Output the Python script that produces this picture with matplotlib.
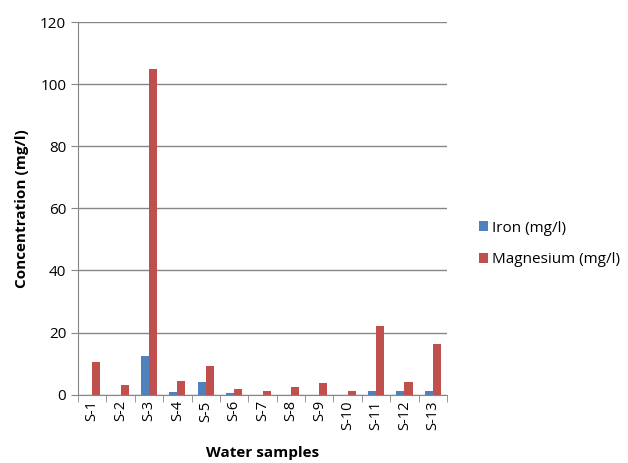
import matplotlib
matplotlib.use("Agg")
import matplotlib.pyplot as plt
import numpy as np

categories = ["S-1", "S-2", "S-3", "S-4", "S-5", "S-6", "S-7", "S-8", "S-9", "S-10", "S-11", "S-12", "S-13"]
iron = [0.0, 0.0, 12.5, 0.9, 4.1, 0.5, 0.0, 0.0, 0.0, 0.0, 1.2, 1.2, 1.3]
magnesium = [10.6, 3.0, 105.0, 4.4, 9.4, 1.8, 1.2, 2.5, 3.8, 1.3, 22.0, 4.2, 16.2]
yticks = [0, 20, 40, 60, 80, 100, 120]

plt.rcParams['font.family'] = ['Open Sans', 'DejaVu Sans']

fig = plt.figure(figsize=(6.28, 4.63), dpi=100)
ax = fig.add_axes([78/628, 1 - 394.7/463, (447-78)/628, (394.7-22)/463])

x = np.arange(len(categories))
w = 1 / 3.5
ax.bar(x - w/2, iron, w, color="#4F81BD", label="Iron (mg/l)", zorder=3)
ax.bar(x + w/2, magnesium, w, color="#C0504D", label="Magnesium (mg/l)", zorder=3)

ax.set_xlim(-0.5, len(categories) - 0.5)
ax.set_ylim(0, 120)
ax.set_yticks(yticks)
ax.yaxis.grid(True, color="#868686", linewidth=1, zorder=0)
ax.set_xticks(x)
ax.set_xticklabels(categories, rotation=90, fontsize=10.5)
ax.tick_params(axis='x', length=0, pad=4)
ax.set_xticks(np.arange(-0.5, len(categories), 1), minor=True)
ax.tick_params(axis='x', which='minor', length=5, color="#868686")
ax.tick_params(axis='y', length=5, color="#868686", labelsize=11)

for s in ["top", "right"]:
    ax.spines[s].set_visible(False)
for s in ["left", "bottom"]:
    ax.spines[s].set_color("#868686")

ax.set_xlabel("Water samples", fontsize=11, fontweight="bold", labelpad=12)
ax.set_ylabel("Concentration (mg/l)", fontsize=11, fontweight="bold", labelpad=8)

fig.legend(*ax.get_legend_handles_labels(), loc="center left",
           bbox_to_anchor=(465/628, 1 - 244/463), frameon=False,
           fontsize=11, handlelength=0.6, handleheight=0.6, labelspacing=1.1,
           handletextpad=0.3)

fig.savefig("out.png", dpi=100)
